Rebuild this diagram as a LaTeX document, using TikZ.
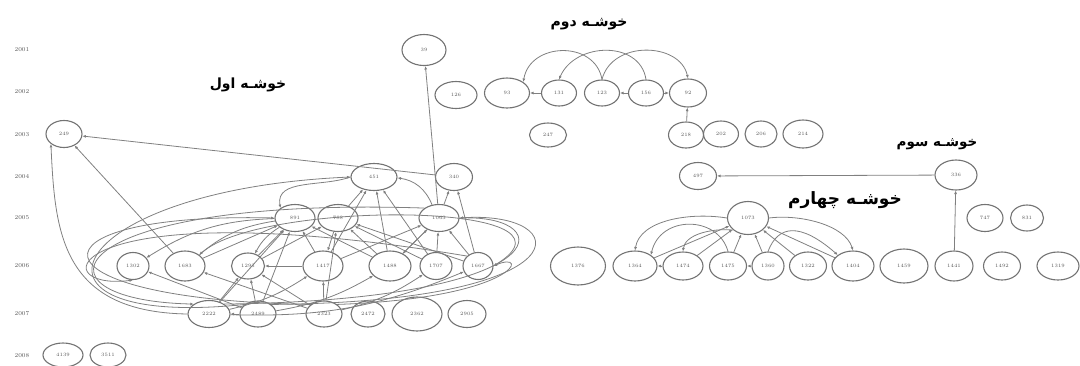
\documentclass[tikz,border=0pt]{standalone}
\usepackage{fontspec}
\usetikzlibrary{shapes.geometric}
\usetikzlibrary{arrows.meta}
\newfontfamily\arabicfont[Script=Arabic]{DejaVu Sans}
\TeXXeTstate=1

\begin{document}
\begin{tikzpicture}[x=1pt, y=-1pt]
        % ================= styles =================
        \tikzset{
            % one author/paper: small grey ellipse
            vtx/.style={ellipse, draw=black!55, line width=1.1pt, minimum width=37pt, minimum height=27pt,
                        inner sep=0pt, font=\fontsize{5}{6}\selectfont, text=black!65},
            % citation link
            link/.style={draw=black!50, line width=0.8pt, -{Latex[length=3.5pt,width=3pt]}},
            % year label on the left
            year/.style={font=\fontsize{6}{7}\selectfont, text=black!65},
            % cluster title
            ctitle/.style={font=\arabicfont\bfseries\fontsize{14}{16}\selectfont}
        }
        \useasboundingbox (0,0) rectangle (1080,365);

        % ================= years =================
        \node[year] (y2001) at (22,50)  {2001};
        \node[year] (y2002) at (22,92)  {2002};
        \node[year] (y2003) at (22,135) {2003};
        \node[year] (y2004) at (22,177) {2004};
        \node[year] (y2005) at (22,218) {2005};
        \node[year] (y2006) at (22,266) {2006};
        \node[year] (y2007) at (22,314) {2007};
        \node[year] (y2008) at (22,356) {2008};

        % ================= cluster 1 =================
        \node[vtx, minimum width=44pt, minimum height=31pt] (n39) at (424,50) {39};
        \node[vtx, minimum width=36pt] (n249) at (64,134) {249};
        \node[vtx, minimum width=46pt] (n451) at (374,177) {451};
        \node[vtx] (n340) at (454,177) {340};
        \node[vtx, minimum width=40pt] (n891) at (295,218) {891};
        \node[vtx, minimum width=40pt] (n788) at (338,218) {788};
        \node[vtx, minimum width=40pt] (n1063) at (439,218) {1063};
        % row 2006
        \node[vtx, minimum width=32pt] (n1302) at (133,266) {1302};
        \node[vtx, minimum width=40pt, minimum height=30pt] (n1683) at (185,266) {1683};
        \node[vtx, minimum width=33pt, minimum height=26pt] (n1293) at (248,266) {1293};
        \node[vtx, minimum width=40pt, minimum height=30pt] (n1417) at (323,266) {1417};
        \node[vtx, minimum width=42pt, minimum height=30pt] (n1488) at (390,266) {1488};
        \node[vtx, minimum width=32pt] (n1707) at (436,266) {1707};
        \node[vtx, minimum width=30pt] (n1667) at (478,266) {1667};
        % row 2007
        \node[vtx, minimum width=42pt] (n2222) at (209,314) {2222};
        \node[vtx, minimum width=36pt, minimum height=26pt] (n2489) at (258,314) {2489};
        \node[vtx, minimum width=36pt, minimum height=26pt] (n2323) at (324,314) {2323};
        \node[vtx, minimum width=34pt, minimum height=26pt] (n2472) at (368,314) {2472};
        \node[vtx, minimum width=50pt, minimum height=34pt] (n2362) at (417,314) {2362};
        \node[vtx, minimum width=38pt] (n2905) at (467,314) {2905};
        % row 2008
        \node[vtx, minimum width=40pt, minimum height=24pt] (n4139) at (63,355) {4139};
        \node[vtx, minimum width=36pt, minimum height=24pt] (n3511) at (108,355) {3511};

        \draw[link] (n340) -- (n249);
        \draw[link] (n1683) -- (n249);
        \draw[link] (n2222.west) .. controls (60,312) and (55,230) .. (n249.south west);
        \draw[link] (n1063) -- (n39);
        \draw[link] (n1063) -- (n340);
        \draw[link] (n1667) -- (n340);
        \draw[link] (n1063) to[bend right=30] (n451);
        \draw[link] (n451.west) to[out=200,in=100] (n891.north west);
        \foreach \s in {n1417,n1488,n1707,n788} \draw[link] (\s) -- (n451);
        % 891 and 788 down / up
        \foreach \t in {n1302,n1683,n1293} \draw[link] (n891) to[bend right=15] (\t);
        \draw[link] (n788) -- (n1417);
        \draw[link] (n1063) -- (n1488);
        \foreach \s in {n1683,n1293,n1417,n1488,n2489,n2222} \draw[link] (\s) -- (n891);
        \foreach \s in {n1293,n1488,n1707,n2323,n1667} \draw[link] (\s) -- (n788);
        \foreach \s in {n1417,n1488,n1707,n1667} \draw[link] (\s) -- (n1063);
        % 2007 up to 2006
        \draw[link] (n2489) -- (n1302);
        \draw[link] (n2323) -- (n1683);
        \foreach \s in {n2222,n2489,n2323} \draw[link] (\s) -- (n1293);
        \draw[link] (n2323) -- (n1417);
        \draw[link] (n2222) to[bend right=10] (n1417);
        \draw[link] (n2489) to[bend right=10] (n1488);
        \draw[link] (n2323) to[bend right=10] (n1707);
        \draw[link] (n2222) to[bend right=12] (n1667);
        \draw[link] (n1417) -- (n1293);
        \draw[link] (n2489) -- (n2222);
        % long loops round the left
        \draw[link] (n2489.north west) .. controls (0,330) and (60,190) .. (n451.west);
        \draw[link] (n2323.north west) .. controls (20,300) and (20,212) .. (n891.west);
        \draw[link] (n1063.north west) .. controls (60,196) and (20,300) .. (n2222.north west);
        \draw[link] (n1667.north west) .. controls (60,188) and (40,292) .. (n1302.south);
        % long loops round the right
        \draw[link] (n2222.north east) .. controls (560,300) and (560,215) .. (n1063.east);
        \draw[link] (n2489.north east) .. controls (590,302) and (575,210) .. (n1063.east);
        \draw[link] (n2323.north east) .. controls (520,298) and (530,250) .. (n1667.east);
        \draw[link] (n1683.north east) .. controls (250,200) and (600,200) .. (n1667.east);

        % ================= cluster 2 =================
        \node[vtx, minimum width=42pt] (n126) at (456,95) {126};
        \node[vtx, minimum width=45pt, minimum height=30pt] (n93) at (507,93) {93};
        \node[vtx, minimum width=35pt, minimum height=26pt] (n131) at (559,93) {131};
        \node[vtx, minimum width=35pt, minimum height=26pt] (n123) at (602,93) {123};
        \node[vtx, minimum width=35pt, minimum height=26pt] (n156) at (646,93) {156};
        \node[vtx, minimum height=28pt] (n92) at (688,93) {92};
        \node[vtx, minimum height=24pt] (n247) at (548,135) {247};
        \node[vtx, minimum width=35pt, minimum height=26pt] (n218) at (686,135) {218};
        \node[vtx, minimum width=35pt, minimum height=26pt] (n202) at (721,134) {202};
        \node[vtx, minimum width=32pt, minimum height=26pt] (n206) at (761,134) {206};
        \node[vtx, minimum width=40pt, minimum height=28pt] (n214) at (803,134) {214};

        \draw[link] (n131) -- (n93);
        \draw[link] (n156) -- (n123);
        \draw[link] (n156) -- (n92);
        \draw[link] (n218) -- (n92);
        \draw[link] (n123.north) .. controls (595,40) and (530,42) .. (n93.north east);
        \draw[link] (n156.north) .. controls (640,40) and (575,42) .. (n131.north);
        \draw[link] (n123.north) .. controls (612,40) and (680,42) .. (n92.north);

        % ================= cluster 3 =================
        \node[vtx, minimum height=27pt] (n497) at (698,176) {497};
        \node[vtx, minimum width=42pt, minimum height=30pt] (n336) at (956,175) {336};
        \draw[link] (n336) -- (n497);

        % ================= cluster 4 =================
        \node[vtx, minimum width=41pt, minimum height=33pt] (n1073) at (748,218) {1073};
        \node[vtx, minimum width=36pt] (n747) at (985,218) {747};
        \node[vtx, minimum width=33pt, minimum height=26pt] (n831) at (1027,218) {831};
        \node[vtx, minimum width=55pt, minimum height=38pt] (n1376) at (578,266) {1376};
        \node[vtx, minimum width=44pt, minimum height=30pt] (n1364) at (635,266) {1364};
        \node[vtx, minimum width=40pt, minimum height=28pt] (n1474) at (683,266) {1474};
        \node[vtx, minimum height=28pt] (n1475) at (728,266) {1475};
        \node[vtx, minimum width=32pt, minimum height=28pt] (n1360) at (768,266) {1360};
        \node[vtx, minimum height=28pt] (n1322) at (808,266) {1322};
        \node[vtx, minimum width=42pt, minimum height=30pt] (n1404) at (853,266) {1404};
        \node[vtx, minimum width=48pt, minimum height=34pt] (n1459) at (904,266) {1459};
        \node[vtx, minimum width=38pt, minimum height=30pt] (n1441) at (954,266) {1441};
        \node[vtx, minimum height=28pt] (n1492) at (1002,266) {1492};
        \node[vtx, minimum width=42pt, minimum height=28pt] (n1319) at (1058,266) {1319};

        \draw[link] (n1441) -- (n336);
        \draw[link] (n1474) -- (n1364);
        \draw[link] (n1360) -- (n1475);
        \foreach \s in {n1364,n1474,n1475,n1360,n1322,n1404} \draw[link] (\s) -- (n1073);
        \draw[link] (n1073.west) .. controls (690,212) and (640,220) .. (n1364.north);
        \draw[link] (n1073.south west) .. controls (710,228) and (685,235) .. (n1474.north);
        \draw[link] (n1073.east) .. controls (800,214) and (845,225) .. (n1404.north);
        \draw[link] (n1475.north) .. controls (718,215) and (660,215) .. (n1364.north east);
        \draw[link] (n1360.north) .. controls (778,225) and (800,222) .. (n1404.north west);

        % ================= titles =================
        \node[ctitle] (t1) at (248,85)  {\beginR خوشـه اول\endR};
        \node[ctitle] (t2) at (589,24)  {\beginR خوشـه دوم\endR};
        \node[ctitle, font=\arabicfont\bfseries\fontsize{13.5}{16}\selectfont] (t3) at (937,144) {\beginR خوشـه سوم\endR};
        \node[ctitle, font=\arabicfont\bfseries\fontsize{17}{19}\selectfont] (t4) at (845,200) {\beginR خوشـه چهارم\endR};

    \end{tikzpicture}
\end{document}
